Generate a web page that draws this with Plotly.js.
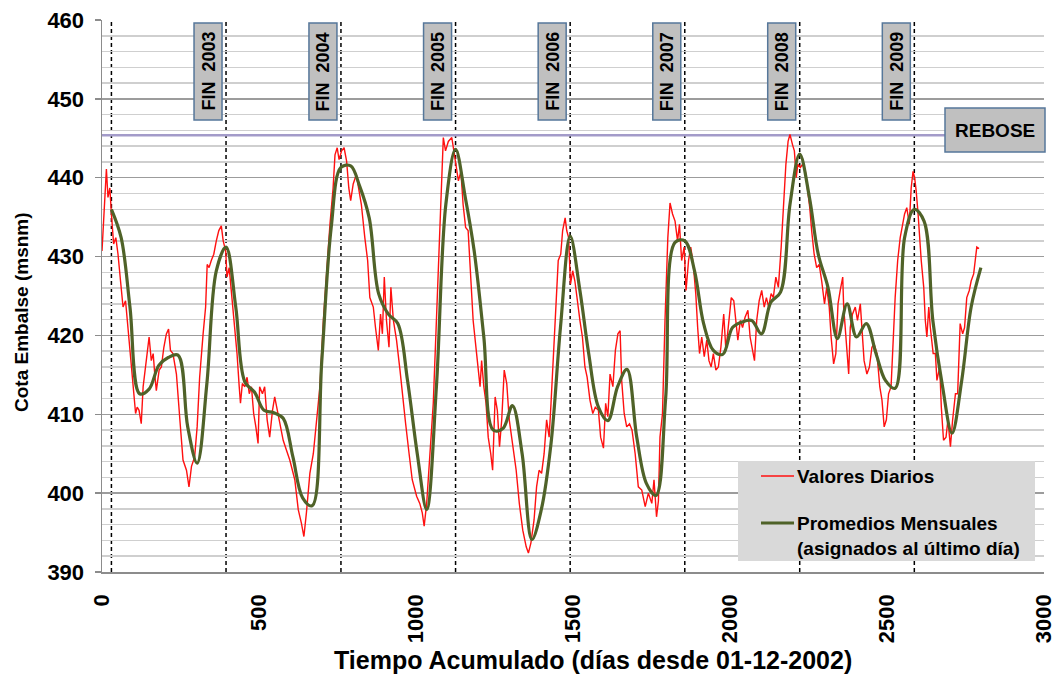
<!DOCTYPE html>
<html>
<head>
<meta charset="utf-8">
<script src="https://cdn.plot.ly/plotly-3.0.1.min.js"></script>
<style>
  html, body { margin: 0; padding: 0; background: #ffffff; }
  #chart { width: 1057px; height: 675px; }
</style>
</head>
<body>
<div id="chart"></div>
<script>
// Daily reservoir level (m.s.n.m.) vs. accumulated days since 01-12-2002
const dailyDays = [
  0,7,14,19,25,30,37,44,51,59,67,75,83,90,99,107,112,118,125,131,141,150,157,163,168,173,182,189,197,205,212,218,226,237,248,258,269,277,285,295,303,311,322,330,335,341,348,356,364,372,380,386,394,398,405,412,423,430,437,441,447,455,462,469,476,483,490,497,502,511,518,526,534,543,550,558,566,577,587,598,
  614,625,635,643,651,662,673,683,694,705,715,726,736,742,749,755,763,771,779,786,792,800,810,818,826,837,846,853,864,871,880,887,893,899,906,914,920,928,938,949,959,967,978,988,1002,1012,1020,1026,1034,1044,1055,1065,1073,1081,1087,1094,1103,1114,1121,1127,1135,1143,1150,1158,1166,1174,
  1182,1193,1204,1209,1216,1223,1230,1238,1244,1252,1259,1266,1273,1281,1289,1297,1308,1319,1329,1340,1351,1358,1366,1376,1384,1392,1400,1408,1416,1424,1430,1437,1446,1453,1461,1467,1475,1480,1486,1492,1499,1506,1514,1522,1530,1538,1545,1554,1563,1571,1581,1588,1597,1604,1611,1618,1627,1635,1643,1650,1655,1663,1671,1680,1688,1698,1708,1719,1730,1740,1751,1758,
  1766,1772,1777,1785,1793,1802,1809,1817,1825,1833,1839,1846,1854,1860,1868,1875,1883,1891,1897,1903,1910,1918,1926,1933,1940,1947,1955,1963,1971,1980,1987,1995,2004,2012,2019,2025,2033,2040,2048,2057,2064,2071,2078,2085,2093,2101,2109,2116,2123,2131,2138,2146,2154,2163,2170,2178,2185,2191,2199,2205,2211,2216,2224,2231,2240,2247,2254,2260,2268,2276,2284,2292,2301,2308,2316,2322,2330,2337,2344,2351,
  2359,2362,2370,2378,2383,2390,2399,2406,2415,2420,2427,2436,2444,2452,2459,2468,2477,2484,2491,2498,2505,2513,2519,2526,2534,2542,2550,2556,2563,2571,2577,2583,2588,2593,2599,2604,2609,2617,2622,2627,2633,2638,2647,2654,2659,2668,2673,2680,2688,2694,2702,2709,2718,2725,2733,2741,2747,2754,2762,2768,2776,2781,2786,2793
];
const dailyLevel = [
  430.7,436.0,441.1,437.5,438.7,435.4,431.6,432.4,430.3,426.9,423.6,424.4,421.0,417.3,413.5,410.1,410.9,410.5,408.8,413.5,416.8,419.8,416.8,417.7,415.1,413.0,415.6,416.0,418.5,420.2,420.8,418.1,417.7,415.1,409.3,404.2,402.9,400.8,403.4,404.6,408.4,414.7,420.2,423.6,429.0,428.6,429.5,430.3,432.0,433.3,433.9,432.0,430.7,427.4,428.6,425.7,420.2,417.7,413.5,411.4,413.9,413.5,414.7,412.6,413.5,410.1,408.4,406.3,413.5,412.6,413.5,409.3,407.1,410.5,412.2,410.5,409.3,406.7,405.5,404.2,
  401.7,397.9,396.2,394.5,397.5,402.5,405.0,408.8,413.5,421.9,428.2,434.1,438.7,442.9,443.8,442.3,443.4,443.8,442.1,438.7,437.1,439.2,440.4,438.7,436.6,432.4,429.5,424.8,423.6,421.0,418.1,422.7,420.2,427.4,421.9,418.5,426.1,421.9,419.4,415.6,411.4,408.8,405.0,401.7,399.6,398.7,397.5,395.8,398.7,405.0,411.4,421.9,430.3,440.8,445.1,443.4,444.6,445.1,442.9,441.7,439.6,440.8,436.6,433.7,433.3,428.2,
  421.9,417.7,413.5,416.8,413.5,411.4,407.1,405.0,402.9,412.2,410.5,405.9,409.3,415.6,413.9,409.3,405.9,402.9,398.7,395.3,393.2,392.4,393.7,396.6,400.8,402.9,402.5,405.0,409.3,407.1,411.4,417.7,424.0,429.5,430.3,433.3,434.9,433.3,432.4,426.5,428.2,426.9,424.0,421.9,419.8,416.0,414.7,411.8,410.1,410.9,410.5,407.1,405.7,411.4,409.7,415.1,413.5,418.1,420.2,420.6,414.3,410.1,408.4,408.8,408.0,405.0,400.8,400.4,398.3,400.0,398.7,401.7,
  397.0,399.0,407.1,410.1,421.9,432.4,436.8,435.4,434.5,432.0,434.1,429.5,431.2,425.7,429.5,431.2,429.0,425.3,421.0,417.7,419.8,417.3,419.4,416.8,416.0,417.7,415.6,416.0,418.5,422.7,418.1,421.0,424.8,424.4,421.9,419.4,421.9,421.0,422.3,423.2,419.8,418.5,416.8,421.9,424.4,425.7,423.6,424.8,423.6,425.3,424.8,427.4,426.1,431.2,436.6,441.7,444.6,445.5,444.2,443.4,440.0,441.7,441.3,441.7,440.8,438.7,436.2,433.3,430.3,428.6,429.0,426.9,424.0,426.1,423.6,419.8,416.4,417.7,424.0,425.7,
  427.4,423.6,419.8,415.1,421.0,422.7,423.6,421.9,424.0,420.6,416.8,415.1,416.0,418.5,418.9,417.7,413.5,411.8,408.4,409.3,412.6,413.5,419.8,424.8,429.5,432.4,434.1,435.4,436.2,434.1,438.7,440.8,440.0,438.3,435.4,432.4,429.5,426.1,421.9,419.8,423.6,421.0,417.7,417.7,414.3,416.0,410.9,406.7,407.1,409.3,405.9,409.3,412.6,412.6,421.5,420.2,421.0,424.8,425.7,426.9,427.8,429.5,431.2,431.0
];

// Monthly means, each assigned to the last day of its month
const monthEndDays = [
  30,
  61,89,120,150,181,211,242,273,303,334,364,395,
  426,455,486,516,547,577,608,639,669,700,730,761,
  792,820,851,881,912,942,973,1004,1034,1065,1095,1126,
  1157,1185,1216,1246,1277,1307,1338,1369,1399,1430,1460,1491,
  1522,1550,1581,1611,1642,1672,1703,1734,1764,1795,1825,1856,
  1887,1916,1947,1977,2008,2038,2069,2100,2130,2161,2191,2222,
  2253,2281,2312,2342,2373,2403,2434,2465,2495,2526,2556,2587,
  2618,2646,2677,2707,2738,2768,2799
];
const monthlyLevel = [
  436.0,
  432.4,423.6,412.6,413.2,416.2,417.2,417.5,408.4,403.8,413.9,428.2,431.2,
  423.6,414.1,412.8,410.5,410.2,409.5,404.6,399.4,398.4,416.8,433.7,441.3,
  441.5,439.0,434.9,425.3,422.7,421.5,414.3,405.0,397.9,413.5,436.6,443.6,
  437.5,430.8,419.8,408.0,408.2,411.1,405.0,394.1,397.9,406.3,421.0,432.6,
  425.7,417.7,410.9,409.2,413.5,415.7,407.1,401.2,399.7,412.0,431.8,432.0,
  428.2,421.5,418.1,417.6,421.0,421.7,421.9,420.2,424.2,425.5,436.6,443.0,
  437.5,430.3,426.1,419.6,424.0,419.8,421.5,417.7,414.3,413.3,432.4,436.0,
  434.5,421.9,413.5,407.6,414.3,423.6,428.6
];

// Year-end markers (day of 31 December) and their labels
const yearEndDays = [30, 395, 761, 1126, 1491, 1856, 2222, 2587];
const yearEndLabels = ['', 'FIN\u00a0\u00a02003', 'FIN\u00a0\u00a02004', 'FIN\u00a0\u00a02005',
                       'FIN\u00a0\u00a02006', 'FIN\u00a0\u00a02007', 'FIN\u00a0\u00a02008', 'FIN\u00a0\u00a02009'];

// Spillway crest level
const reboseLevel = 445.4;

const FONT = 'Liberation Sans, Arial, Helvetica, sans-serif';

// Plot area in page pixels, used to place the boxes and the legend
const L = 102, R = 1044, T = 20, B = 572;
const fx = p => (p - L) / (R - L);
const fy = p => (B - p) / (B - T);

const traces = [
  {
    x: dailyDays, y: dailyLevel, type: 'scatter', mode: 'lines',
    name: 'Valores Diarios',
    line: { color: '#ff1010', width: 1.4 },
    showlegend: false, hoverinfo: 'x+y'
  },
  {
    x: monthEndDays, y: monthlyLevel, type: 'scatter', mode: 'lines',
    name: 'Promedios Mensuales (asignados al último día)',
    line: { color: '#4f6228', width: 3.2, shape: 'spline', smoothing: 1 },
    showlegend: false, hoverinfo: 'x+y'
  }
];

const shapes = [];
const annotations = [];

// Dashed year-end lines
yearEndDays.forEach(d => {
  shapes.push({
    type: 'line', layer: 'between',
    xref: 'x', yref: 'paper', x0: d, x1: d, y0: 0, y1: 1,
    line: { color: '#000000', width: 1.5, dash: '4px,3px' }
  });
});

// Spillway line
shapes.push({
  type: 'line', layer: 'between',
  xref: 'paper', yref: 'y', x0: 0, x1: fx(950), y0: reboseLevel, y1: reboseLevel,
  line: { color: '#a39bc9', width: 2.5 }
});

// Year-end label boxes
yearEndDays.forEach((d, i) => {
  if (!yearEndLabels[i]) return;
  shapes.push({
    type: 'rect', layer: 'above',
    xref: 'x', xsizemode: 'pixel', xanchor: d, x0: -32, x1: -4,
    yref: 'paper', y0: fy(120), y1: fy(23),
    fillcolor: '#c0c0c0', line: { color: '#56779a', width: 1.5 }
  });
  annotations.push({
    xref: 'x', yref: 'paper', x: d, xshift: -18, y: fy(71.5),
    xanchor: 'center', yanchor: 'middle', textangle: -90,
    text: yearEndLabels[i], showarrow: false,
    font: { family: FONT, size: 18, weight: 'bold', color: '#000000' }
  });
});

// REBOSE box
shapes.push({
  type: 'rect', layer: 'above', xref: 'paper', yref: 'paper',
  x0: fx(945), x1: fx(1045), y0: fy(152), y1: fy(108),
  fillcolor: '#c0c0c0', line: { color: '#56779a', width: 1.5 }
});
annotations.push({
  xref: 'paper', yref: 'paper', x: fx(995), y: fy(130),
  xanchor: 'center', yanchor: 'middle', text: 'REBOSE', showarrow: false,
  font: { family: FONT, size: 19, weight: 'bold', color: '#000000' }
});

// Legend
shapes.push({
  type: 'rect', layer: 'above', xref: 'paper', yref: 'paper',
  x0: fx(738), x1: fx(1035), y0: fy(561), y1: fy(461),
  fillcolor: '#d9d9d9', line: { width: 0 }
});
shapes.push({
  type: 'line', layer: 'above', xref: 'paper', yref: 'paper',
  x0: fx(761), x1: fx(794), y0: fy(476), y1: fy(476),
  line: { color: '#ff1010', width: 1.5 }
});
shapes.push({
  type: 'line', layer: 'above', xref: 'paper', yref: 'paper',
  x0: fx(761), x1: fx(794), y0: fy(523), y1: fy(523),
  line: { color: '#4f6228', width: 3.2 }
});
annotations.push({
  xref: 'paper', yref: 'paper', x: fx(795), y: fy(476),
  xanchor: 'left', yanchor: 'middle', text: 'Valores Diarios', showarrow: false,
  font: { family: FONT, size: 19, weight: 'bold', color: '#000000' }
});
annotations.push({
  xref: 'paper', yref: 'paper', x: fx(795), y: fy(511),
  xanchor: 'left', yanchor: 'top', align: 'left',
  text: 'Promedios Mensuales<br>(asignados al último día)', showarrow: false,
  font: { family: FONT, size: 19, weight: 'bold', color: '#000000' }
});

// Axis titles
annotations.push({
  xref: 'paper', yref: 'paper', x: fx(593), y: fy(660),
  xanchor: 'center', yanchor: 'middle', showarrow: false,
  text: 'Tiempo Acumulado (días desde 01-12-2002)',
  font: { family: FONT, size: 25, weight: 'bold', color: '#000000' }
});
annotations.push({
  xref: 'paper', yref: 'paper', x: fx(21), y: fy(312),
  xanchor: 'center', yanchor: 'middle', showarrow: false, textangle: -90,
  text: 'Cota Embalse (msnm)',
  font: { family: FONT, size: 19, weight: 'bold', color: '#000000' }
});

const layout = {
  width: 1057, height: 675,
  margin: { l: L, r: 1057 - R, t: T, b: 675 - B, pad: 0 },
  paper_bgcolor: '#ffffff', plot_bgcolor: '#ffffff',
  showlegend: false,
  xaxis: {
    range: [0, 3000], tick0: 0, dtick: 500, tickangle: -90,
    showgrid: false, zeroline: false,
    showline: true, linecolor: '#8c8c8c', linewidth: 1.5,
    ticks: '', ticklabelstandoff: 12,
    tickfont: { family: FONT, size: 22, weight: 'bold', color: '#000000' }
  },
  yaxis: {
    range: [390, 460], tick0: 390, dtick: 10,
    showgrid: true, gridcolor: '#9c9c9c', gridwidth: 1.5,
    minor: { dtick: 2, showgrid: true, gridcolor: '#cfcfcf', gridwidth: 1.5, ticks: '' },
    zeroline: false,
    showline: true, linecolor: '#8c8c8c', linewidth: 1.5,
    ticks: 'outside', ticklen: 6, tickcolor: '#8c8c8c', tickwidth: 1.5,
    ticklabelstandoff: 6,
    tickfont: { family: FONT, size: 22, weight: 'bold', color: '#000000' }
  },
  shapes: shapes,
  annotations: annotations
};

Plotly.newPlot('chart', traces, layout, { displayModeBar: false, responsive: false, staticPlot: true });
</script>
</body>
</html>
